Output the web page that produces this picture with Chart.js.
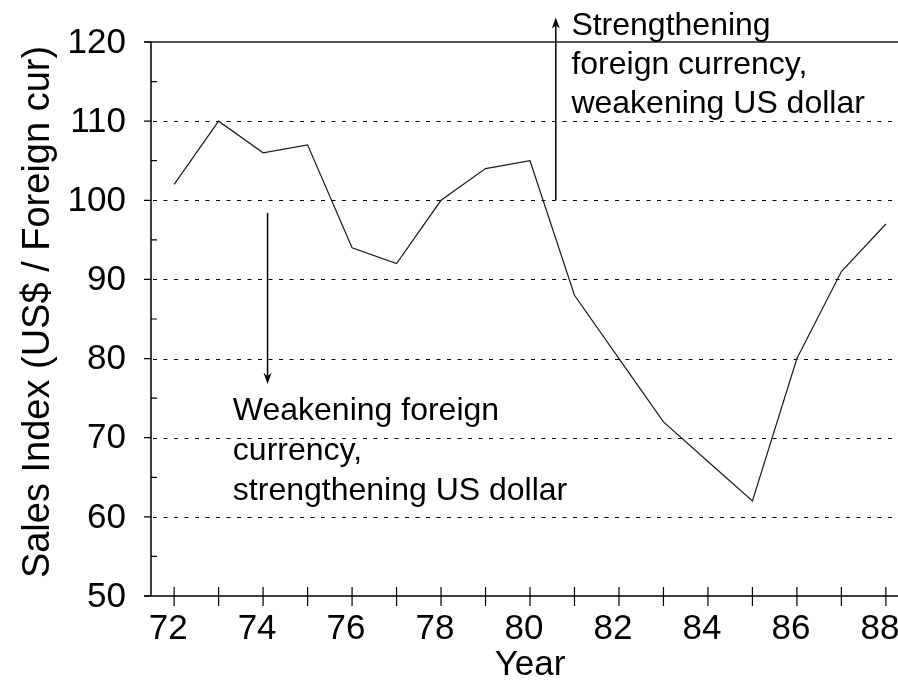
<!DOCTYPE html>
<html>
<head>
<meta charset="utf-8">
<script src="https://cdn.jsdelivr.net/npm/chart.js@4"></script>
<style>
  html, body { margin: 0; padding: 0; background: #fff; }
  #wrap { width: 898px; height: 683px; }
</style>
</head>
<body>
<div id="wrap"><canvas id="chart" width="898" height="683"></canvas></div>
<script>
// values
const years = [72, 73, 74, 75, 76, 77, 78, 79, 80, 81, 82, 83, 84, 85, 86, 87, 88];
const salesIndex = [102, 110, 106, 107, 94, 92, 100, 104, 105, 88, 80, 72, 67, 62, 80, 91, 97];
const yearTicks = [72, 74, 76, 78, 80, 82, 84, 86, 88];
const indexTicks = [50, 60, 70, 80, 90, 100, 110, 120];

const xTitle = "Year";
const yTitle = "Sales Index (US$ / Foreign cur)";
const upNote = ["Strengthening", "foreign currency,", "weakening US dollar"];
const downNote = ["Weakening foreign", "currency,", "strengthening US dollar"];

// arrows and note anchors, in data units (year, index)
const upArrow = { year: 80.58, from: 100, to: 123.1 };
const downArrow = { year: 74.1, from: 98.4, to: 76.8 };
const upNoteAt = { year: 80.93, index: 120.9 };
const downNoteAt = { year: 73.32, index: 72.25 };

const FONT = "'Liberation Sans', Arial, Helvetica, sans-serif";

function arrow(ctx, x, y1, y2) {
  const dir = y2 < y1 ? -1 : 1;
  ctx.beginPath();
  ctx.moveTo(x, y1);
  ctx.lineTo(x, y2 - dir * 8);
  ctx.stroke();
  ctx.beginPath();
  ctx.moveTo(x, y2);
  ctx.lineTo(x - 4, y2 - dir * 11);
  ctx.lineTo(x, y2 - dir * 8);
  ctx.lineTo(x + 4, y2 - dir * 11);
  ctx.closePath();
  ctx.fill();
}

const framePlugin = {
  id: "frame",
  beforeDatasetsDraw(chart) {
    const { ctx, chartArea: area, scales: { x, y } } = chart;
    const W = chart.width;
    ctx.save();

    // dashed grid lines
    ctx.strokeStyle = "#000";
    ctx.lineWidth = 1;
    ctx.setLineDash([4, 6.5]);
    indexTicks.slice(1, -1).forEach((v) => {
      const py = Math.round(y.getPixelForValue(v)) + 0.5;
      ctx.beginPath();
      ctx.moveTo(area.left + 2, py);
      ctx.lineTo(W, py);
      ctx.stroke();
    });
    ctx.setLineDash([]);

    // top line at 120
    const topY = y.getPixelForValue(indexTicks[indexTicks.length - 1]);
    ctx.strokeStyle = "#555";
    ctx.lineWidth = 2;
    ctx.beginPath();
    ctx.moveTo(area.left - 7, topY);
    ctx.lineTo(W, topY);
    ctx.stroke();

    // axes
    ctx.strokeStyle = "#000";
    ctx.lineWidth = 1.5;
    const botY = y.getPixelForValue(indexTicks[0]);
    ctx.beginPath();
    ctx.moveTo(area.left, topY);
    ctx.lineTo(area.left, botY);
    ctx.moveTo(area.left - 7, botY);
    ctx.lineTo(W, botY);
    ctx.stroke();

    // y tick marks: major outside, minor inside
    ctx.lineWidth = 1.2;
    ctx.beginPath();
    indexTicks.forEach((v, i) => {
      const py = y.getPixelForValue(v);
      ctx.moveTo(area.left - 7, py);
      ctx.lineTo(area.left, py);
      if (i > 0) {
        const pm = y.getPixelForValue(v - 5);
        ctx.moveTo(area.left, pm);
        ctx.lineTo(area.left + 6, pm);
      }
    });
    // x tick marks cross the axis
    years.forEach((v) => {
      const px = x.getPixelForValue(v);
      ctx.moveTo(px, botY - 9);
      ctx.lineTo(px, botY + 10);
    });
    ctx.stroke();

    // tick labels and axis titles
    ctx.fillStyle = "#000";
    ctx.font = "35px " + FONT;
    ctx.textAlign = "right";
    ctx.textBaseline = "middle";
    indexTicks.forEach((v) => ctx.fillText(String(v), area.left - 25, y.getPixelForValue(v) + 1));
    ctx.textAlign = "center";
    ctx.textBaseline = "alphabetic";
    // labels sit a little left of their tick in the original
    yearTicks.forEach((v) => ctx.fillText(String(v), x.getPixelForValue(v) - 6, botY + 43));
    ctx.fillText(xTitle, (area.left + area.right) / 2 + 6, botY + 79);

    ctx.save();
    ctx.font = "38px " + FONT;
    ctx.translate(49, (area.top + area.bottom) / 2 - 7);
    ctx.rotate(-Math.PI / 2);
    ctx.fillText(yTitle, 0, 0);
    ctx.restore();
    ctx.restore();
  },
  afterDatasetsDraw(chart) {
    const { ctx, scales: { x, y } } = chart;
    ctx.save();
    ctx.strokeStyle = "#000";
    ctx.fillStyle = "#000";
    ctx.lineWidth = 1.5;
    arrow(ctx, x.getPixelForValue(upArrow.year), y.getPixelForValue(upArrow.from), y.getPixelForValue(upArrow.to));
    arrow(ctx, x.getPixelForValue(downArrow.year), y.getPixelForValue(downArrow.from), y.getPixelForValue(downArrow.to));

    ctx.font = "32px " + FONT;
    ctx.textAlign = "left";
    ctx.textBaseline = "alphabetic";
    const ux = x.getPixelForValue(upNoteAt.year);
    const uy = y.getPixelForValue(upNoteAt.index);
    upNote.forEach((t, i) => ctx.fillText(t, ux, uy + i * 39));
    const dx = x.getPixelForValue(downNoteAt.year);
    const dy = y.getPixelForValue(downNoteAt.index);
    downNote.forEach((t, i) => ctx.fillText(t, dx, dy + i * 40));
    ctx.restore();
  },
};

new Chart(document.getElementById("chart"), {
  type: "line",
  data: {
    datasets: [{
      data: years.map((yr, i) => ({ x: yr, y: salesIndex[i] })),
      borderColor: "#1a1a1a",
      borderWidth: 1.2,
      pointRadius: 0,
      tension: 0,
      fill: false,
    }],
  },
  options: {
    responsive: false,
    animation: false,
    layout: { autoPadding: false, padding: { top: 42, right: 1, left: 0, bottom: 0 } },
    plugins: { legend: { display: false }, tooltip: { enabled: false } },
    scales: {
      x: {
        type: "linear",
        min: 71.48,
        max: 88.25,
        grid: { display: false, drawTicks: false },
        border: { display: false },
        ticks: { display: false },
        afterFit: (scale) => { scale.height = 87; },
      },
      y: {
        type: "linear",
        min: 50,
        max: 120,
        grid: { display: false, drawTicks: false },
        border: { display: false },
        ticks: { display: false },
        afterFit: (scale) => { scale.width = 151; },
      },
    },
  },
  plugins: [framePlugin],
});
</script>
</body>
</html>
